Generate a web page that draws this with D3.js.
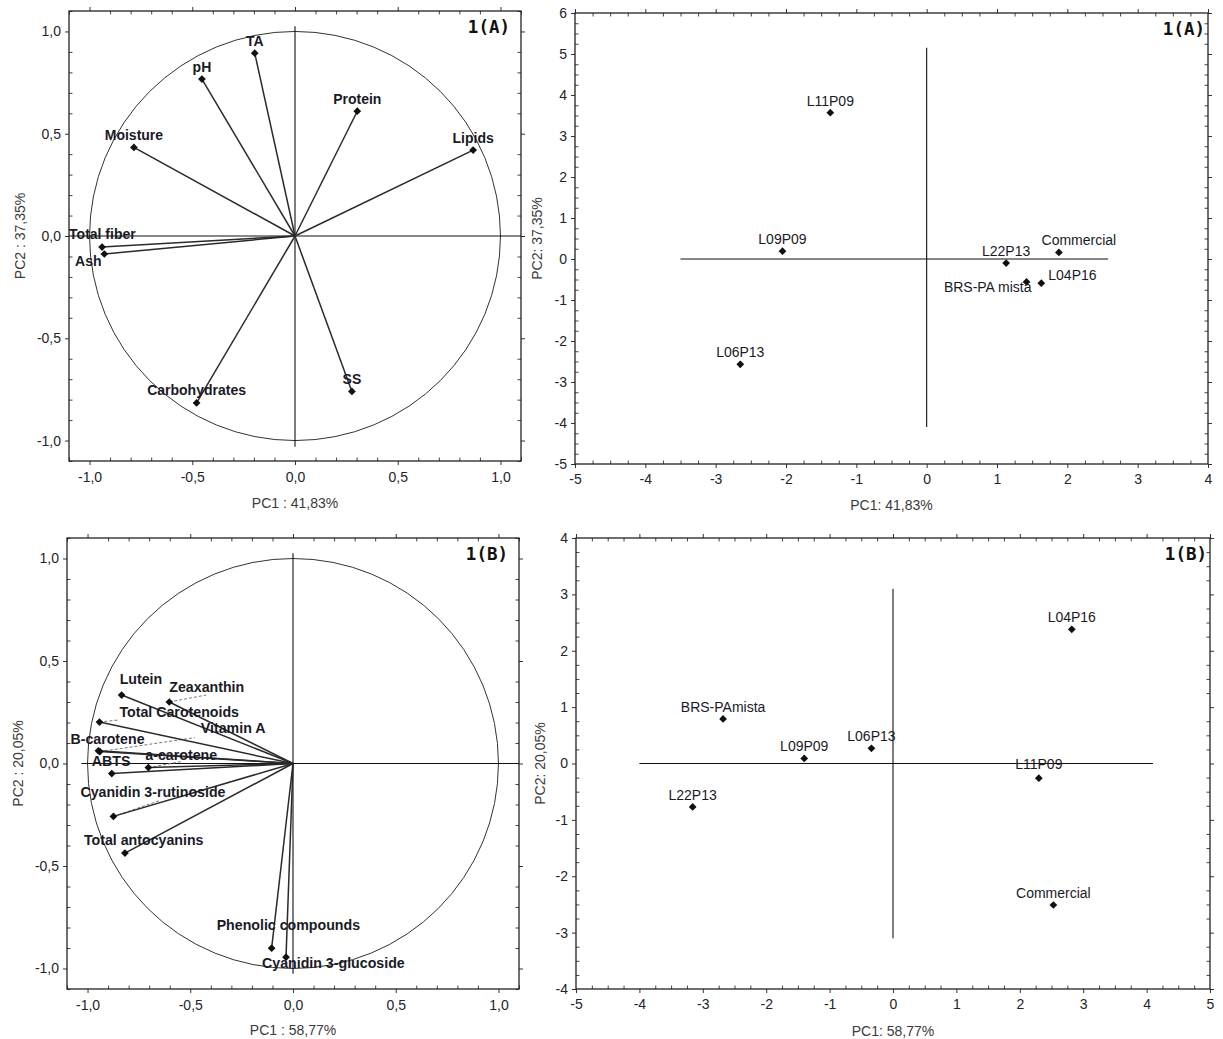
<!DOCTYPE html>
<html><head><meta charset="utf-8">
<script src="https://cdn.jsdelivr.net/npm/d3@7"></script>
<style>
body{margin:0;background:#fff}
svg{display:block;font-family:"Liberation Sans",Arial,sans-serif}
</style>
</head><body>
<svg id="chart" width="1223" height="1039"></svg>
<script>
// ---- 1(A): physicochemical variables, loadings on PC1/PC2 ----
const varsA = ["TA","pH","Moisture","Protein","Lipids","Total fiber","Ash","Carbohydrates","SS"];
const varsA_pc1 = [-0.196,-0.453,-0.784,0.303,0.867,-0.939,-0.928,-0.479,0.277];
const varsA_pc2 = [0.894,0.767,0.433,0.610,0.420,-0.054,-0.088,-0.816,-0.760];

// ---- 1(A): sample scores ----
const samplesA = ["L11P09","L09P09","L22P13","Commercial","BRS-PA mista","L04P16","L06P13"];
const samplesA_pc1 = [-1.37,-2.05,1.13,1.88,1.42,1.63,-2.65];
const samplesA_pc2 = [3.57,0.19,-0.10,0.16,-0.56,-0.59,-2.57];

// ---- 1(B): bioactive compounds, loadings on PC1/PC2 ----
const varsB = ["Lutein","Zeaxanthin","Total Carotenoids","Vitamin A","B-carotene","a-carotene","ABTS",
               "Cyanidin 3-rutinoside","Total antocyanins","Phenolic compounds","Cyanidin 3-glucoside"];
const varsB_pc1 = [-0.834,-0.602,-0.942,-0.940,-0.947,-0.704,-0.882,-0.874,-0.818,-0.104,-0.034];
const varsB_pc2 = [0.334,0.300,0.202,0.058,0.062,-0.020,-0.049,-0.258,-0.437,-0.901,-0.945];

// ---- 1(B): sample scores ----
const samplesB = ["L04P16","BRS-PAmista","L09P09","L06P13","L11P09","L22P13","Commercial"];
const samplesB_pc1 = [2.82,-2.68,-1.40,-0.34,2.30,-3.16,2.53];
const samplesB_pc2 = [2.38,0.79,0.09,0.27,-0.26,-0.77,-2.51];

// ---- tick values ----
const loadMajorTicks = [-1.0,-0.5,0.0,0.5,1.0];
const scoreXTicksA = [-5,-4,-3,-2,-1,0,1,2,3,4];
const scoreYTicksA = [-5,-4,-3,-2,-1,0,1,2,3,4,5,6];
const scoreXTicksB = [-5,-4,-3,-2,-1,0,1,2,3,4,5];
const scoreYTicksB = [-4,-3,-2,-1,0,1,2,3,4];

// ---- label placement (pixel offsets from the marker; default = centred above) ----
const labelPlaceA = {
  "Total fiber": {anchor:"start", dx:-33, dy:-13},
  "Ash":         {anchor:"middle", dx:-16, dy:7}
};
const labelPlaceScoreA = {
  "Commercial":   {anchor:"middle", dx:20, dy:-12},
  "BRS-PA mista": {anchor:"end", dx:5, dy:5},
  "L04P16":       {anchor:"start", dx:7, dy:-8}
};
const labelPlaceB = {
  "Lutein":                {anchor:"start", dx:-2,  dy:-16},
  "Zeaxanthin":            {anchor:"start", dx:0,   dy:-15, lead:[37,-7]},
  "Total Carotenoids":     {anchor:"start", dx:20,  dy:-10, lead:[18,-2]},
  "Vitamin A":             {anchor:"start", dx:101, dy:-24, lead:[95,-14]},
  "B-carotene":            {anchor:"start", dx:-28, dy:-12},
  "a-carotene":            {anchor:"start", dx:-3,  dy:-13, lead:[33,-6]},
  "ABTS":                  {anchor:"start", dx:-20, dy:-13},
  "Cyanidin 3-rutinoside": {anchor:"start", dx:-33, dy:-24, lead:[47,-16]},
  "Total antocyanins":     {anchor:"start", dx:-41, dy:-13},
  "Phenolic compounds":    {anchor:"start", dx:-55, dy:-23},
  "Cyanidin 3-glucoside":  {anchor:"start", dx:-24, dy:6}
};
const labelPlaceScoreB = {
  "L11P09": {anchor:"middle", dx:0, dy:-14}
};

const svg = d3.select("#chart");
const INK = "#1a1a26";
const fmtLoad = d3.formatLocale({decimal:",", thousands:".", grouping:[3], currency:["",""], minus:"-"}).format(".1f");
const fmtInt = d3.formatLocale({decimal:",", thousands:".", grouping:[3], currency:["",""], minus:"-"}).format("d");

const diamond = d3.symbol().type(d3.symbolSquare).size(30);

function drawPanel(cfg) {
  const f = cfg.frame;
  const x = d3.scaleLinear().domain(cfg.xDom).range([f.l, f.r]);
  const y = d3.scaleLinear().domain(cfg.yDom).range([f.b, f.t]);
  const g = svg.append("g");

  // minor ticks inside, major ticks outside, on all four sides
  const minorX = d3.range(cfg.xDom[0], cfg.xDom[1] + 1e-9, cfg.minor).map(v => +v.toFixed(4))
      .filter(v => !cfg.xTicks.some(t => Math.abs(t - v) < 1e-6));
  const minorY = d3.range(cfg.yDom[0], cfg.yDom[1] + 1e-9, cfg.minor).map(v => +v.toFixed(4))
      .filter(v => !cfg.yTicks.some(t => Math.abs(t - v) < 1e-6));
  const sides = [
    [() => d3.axisBottom(x), `translate(0,${f.b})`, minorX, cfg.xTicks, true, cfg.padX],
    [() => d3.axisTop(x),    `translate(0,${f.t})`, minorX, cfg.xTicks, false, cfg.padX],
    [() => d3.axisLeft(y),   `translate(${f.l},0)`, minorY, cfg.yTicks, true, cfg.padY],
    [() => d3.axisRight(y),  `translate(${f.r},0)`, minorY, cfg.yTicks, false, cfg.padY]
  ];
  sides.forEach(([mk, tr, minor, major, labelled, pad]) => {
    const gm = g.append("g").attr("transform", tr)
      .call(mk().tickValues(minor).tickSize(-3.5).tickFormat(""));
    gm.select(".domain").remove();
    gm.selectAll("line").attr("stroke", "#444");
    const gM = g.append("g").attr("transform", tr)
      .call(mk().tickValues(major).tickSize(4).tickPadding(pad)
        .tickFormat(labelled ? cfg.fmt : ""));
    gM.select(".domain").remove();
    gM.selectAll("line").attr("stroke", "#333");
    gM.selectAll("text").attr("fill", "#22242c").style("font-size", "14px")
      .style("font-family", "'Liberation Sans',Arial,sans-serif");
  });

  // frame
  g.append("rect").attr("x", f.l).attr("y", f.t).attr("width", f.r - f.l).attr("height", f.b - f.t)
    .attr("fill", "none").attr("stroke", "#222").attr("stroke-width", 1.3);

  // unit circle for loadings
  if (cfg.circle) {
    g.append("ellipse").attr("cx", x(0)).attr("cy", y(0))
      .attr("rx", x(1) - x(0)).attr("ry", y(0) - y(1))
      .attr("fill", "none").attr("stroke", "#333").attr("stroke-width", 1);
  }

  // reference lines through the origin
  g.append("line").attr("x1", x(cfg.hLine[0])).attr("x2", x(cfg.hLine[1]))
    .attr("y1", y(0)).attr("y2", y(0)).attr("stroke", "#111").attr("stroke-width", 1.1);
  g.append("line").attr("x1", x(0)).attr("x2", x(0))
    .attr("y1", y(cfg.vLine[0])).attr("y2", y(cfg.vLine[1])).attr("stroke", "#111").attr("stroke-width", 1.1);

  const pts = cfg.names.map((n, i) => ({name: n, px: x(cfg.pc1[i]), py: y(cfg.pc2[i])}));
  const place = cfg.place || {};

  // dashed leaders to displaced labels
  pts.forEach(p => {
    const pl = place[p.name];
    if (pl && pl.lead) {
      g.append("line").attr("x1", p.px).attr("y1", p.py)
        .attr("x2", p.px + pl.lead[0]).attr("y2", p.py + pl.lead[1])
        .attr("stroke", "#777").attr("stroke-width", 1).attr("stroke-dasharray", "3,2");
    }
  });

  // loading vectors
  if (cfg.vectors) {
    g.selectAll(null).data(pts).join("line")
      .attr("x1", x(0)).attr("y1", y(0)).attr("x2", d => d.px).attr("y2", d => d.py)
      .attr("stroke", "#2a2a2a").attr("stroke-width", 1.5);
  }

  // markers
  g.selectAll(null).data(pts).join("path")
    .attr("d", diamond)
    .attr("transform", d => `translate(${d.px},${d.py}) rotate(45)`)
    .attr("fill", "#111");

  // labels
  g.selectAll(null).data(pts).join("text")
    .attr("x", d => d.px + (place[d.name] ? place[d.name].dx : 0))
    .attr("y", d => d.py + (place[d.name] ? place[d.name].dy : cfg.labelDy))
    .attr("text-anchor", d => place[d.name] ? place[d.name].anchor : "middle")
    .attr("dominant-baseline", "central")
    .attr("fill", INK)
    .style("font-size", cfg.labelSize + "px")
    .style("font-weight", cfg.bold ? "bold" : "normal")
    .text(d => d.name);

  // axis titles
  g.append("text").attr("x", (f.l + f.r) / 2).attr("y", cfg.xTitleY)
    .attr("text-anchor", "middle").attr("dominant-baseline", "central")
    .attr("fill", "#3a3a3a").style("font-size", "14px").text(cfg.xTitle);
  g.append("text").attr("transform", `translate(${cfg.yTitleX},${(f.t + f.b) / 2}) rotate(-90)`)
    .attr("text-anchor", "middle").attr("dominant-baseline", "central")
    .attr("fill", "#3a3a3a").style("font-size", "14px").text(cfg.yTitle);

  // panel tag
  g.append("text").attr("x", f.r - cfg.tagInset).attr("y", f.t + 16)
    .attr("text-anchor", "end").attr("dominant-baseline", "central")
    .attr("fill", "#111").style("font-family", "'DejaVu Sans Mono',monospace")
    .style("font-weight", "bold").style("font-size", "17.5px").text(cfg.tag);
}

drawPanel({
  frame: {l:69, t:11, r:521, b:461}, xDom:[-1.1,1.1], yDom:[-1.1,1.1],
  xTicks: loadMajorTicks, yTicks: loadMajorTicks, minor: 0.1, fmt: fmtLoad, padX: 7, padY: 4,
  circle: true, vectors: true, hLine: [-1.1, 1.1], vLine: [1.025, -1.03],
  names: varsA, pc1: varsA_pc1, pc2: varsA_pc2, place: labelPlaceA,
  labelDy: -12.5, labelSize: 14, bold: true,
  xTitle: "PC1 : 41,83%", xTitleY: 503, yTitle: "PC2 : 37,35%", yTitleX: 20,
  tag: "1(A)", tagInset: 11
});

drawPanel({
  frame: {l:575, t:13, r:1208, b:464}, xDom:[-5,4], yDom:[-5,6],
  xTicks: scoreXTicksA, yTicks: scoreYTicksA, minor: 0.25, fmt: fmtInt, padX: 6, padY: 4,
  circle: false, vectors: false, hLine: [-3.5, 2.58], vLine: [5.15, -4.1],
  names: samplesA, pc1: samplesA_pc1, pc2: samplesA_pc2, place: labelPlaceScoreA,
  labelDy: -12, labelSize: 14, bold: false,
  xTitle: "PC1: 41,83%", xTitleY: 505, yTitle: "PC2: 37,35%", yTitleX: 537,
  tag: "1(A)", tagInset: 3
});

drawPanel({
  frame: {l:67, t:538, r:519, b:989}, xDom:[-1.1,1.1], yDom:[-1.1,1.1],
  xTicks: loadMajorTicks, yTicks: loadMajorTicks, minor: 0.1, fmt: fmtLoad, padX: 7, padY: 4,
  circle: true, vectors: true, hLine: [-1.03, 1.1], vLine: [1.026, -1.026],
  names: varsB, pc1: varsB_pc1, pc2: varsB_pc2, place: labelPlaceB,
  labelDy: -12.5, labelSize: 14.2, bold: true,
  xTitle: "PC1 : 58,77%", xTitleY: 1030, yTitle: "PC2 : 20,05%", yTitleX: 18,
  tag: "1(B)", tagInset: 11
});

drawPanel({
  frame: {l:576, t:538, r:1210, b:989}, xDom:[-5,5], yDom:[-4,4],
  xTicks: scoreXTicksB, yTicks: scoreYTicksB, minor: 0.25, fmt: fmtInt, padX: 6, padY: 4,
  circle: false, vectors: false, hLine: [-4, 4.1], vLine: [3.1, -3.1],
  names: samplesB, pc1: samplesB_pc1, pc2: samplesB_pc2, place: labelPlaceScoreB,
  labelDy: -12, labelSize: 14, bold: false,
  xTitle: "PC1: 58,77%", xTitleY: 1031, yTitle: "PC2: 20,05%", yTitleX: 540,
  tag: "1(B)", tagInset: 3
});
</script>
</body></html>
